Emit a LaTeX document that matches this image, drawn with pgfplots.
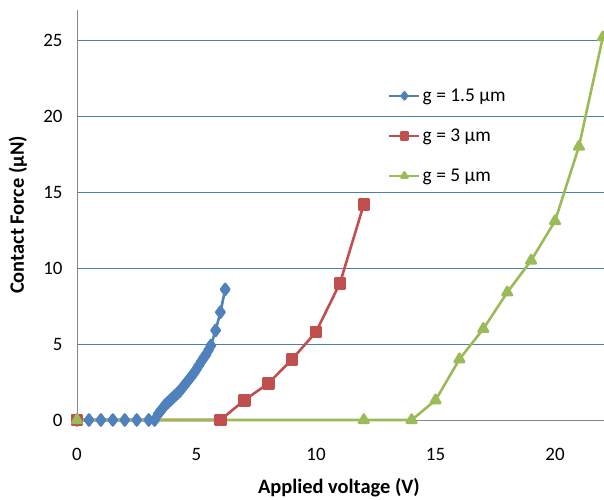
\documentclass[border=0pt]{standalone}
\usepackage{pgfplots}
\pgfplotsset{compat=1.18}
\usepackage{fontspec}
\setmainfont{Carlito}
\definecolor{sblue}{HTML}{4F81BD}
\definecolor{sred}{HTML}{C0504D}
\definecolor{sgreen}{HTML}{9BBB59}
\definecolor{gridblue}{HTML}{4A7EBB}
\definecolor{axgray}{HTML}{868686}
\begin{document}
\begin{tikzpicture}
\useasboundingbox (0,0) rectangle (604bp,500bp);
\begin{axis}[
  at={(77bp,80bp)}, anchor=south west,
  scale only axis, width=527bp, height=410bp,
  xmin=0, xmax=22.05, ymin=0, ymax=27,
  clip=false,
  axis x line*=bottom, axis y line*=left,
  axis line style={axgray, line width=1bp, -},
  ymajorgrids, grid style={gridblue, line width=0.9bp},
  xtick={0,5,10,15,20}, ytick={0,5,10,15,20,25},
  major tick length=0pt,
  tick label style={font=\fontsize{19}{22}\selectfont},
  /pgf/number format/assume math mode=true,
  xticklabel style={yshift=-25bp},
  yticklabel style={xshift=-11bp},
  xlabel={Applied voltage (V)}, ylabel={Contact Force (μN)},
  label style={font=\bfseries\fontsize{20.5}{24}\selectfont},
  xlabel style={at={(axis description cs:0.497,-0.166)}, anchor=center},
  ylabel style={at={(axis description cs:-0.112,0.5)}, anchor=center, rotate=0},
  legend style={at={(0.59,0.813)}, anchor=north west, draw=none, fill=none,
    font=\fontsize{19.5}{23}\selectfont, row sep=22bp, inner sep=0pt},
  legend cell align=left,
  legend image code/.code={\draw[mark size=3.5bp, mark repeat=2, mark phase=2] plot coordinates {(0bp,0bp) (15bp,0bp) (30bp,0bp)};},
  every axis plot/.append style={line width=2.6bp, line join=round},
]
\addplot[color=sblue, mark=diamond*, mark size=5.5bp, mark options={solid}] coordinates {
(0,0) (0.5,0) (1,0) (1.5,0) (2,0) (2.5,0) (3,0) (3.25,0)
(3.4,0.4) (3.5,0.6) (3.6,0.8) (3.7,1.0) (3.8,1.15) (3.9,1.3) (4.0,1.45)
(4.1,1.6) (4.2,1.75) (4.3,1.9) (4.4,2.1) (4.5,2.3) (4.6,2.5) (4.7,2.7)
(4.8,2.9) (4.9,3.1) (5.0,3.35) (5.1,3.6) (5.2,3.85) (5.3,4.1) (5.4,4.3)
(5.5,4.6) (5.6,4.9) (5.8,5.9) (6.0,7.1) (6.2,8.6)
};
\addlegendentry{g = 1.5 μm}
\addplot[color=sred, mark=square*, mark size=5bp] coordinates {
(0,0) (6,0) (7,1.3) (8,2.4) (9,4.0) (10,5.8) (11,9.0) (12,14.2)
};
\addlegendentry{g = 3 μm}
\addplot[color=sgreen, mark=triangle*, mark size=5.5bp] coordinates {
(0,0) (12,0) (14,0) (15,1.3) (16,4.0) (17,6.0) (18,8.4) (19,10.5) (20,13.1) (21,18.0) (22,25.2)
};
\addlegendentry{g = 5 μm}
\end{axis}
\end{tikzpicture}
\end{document}
